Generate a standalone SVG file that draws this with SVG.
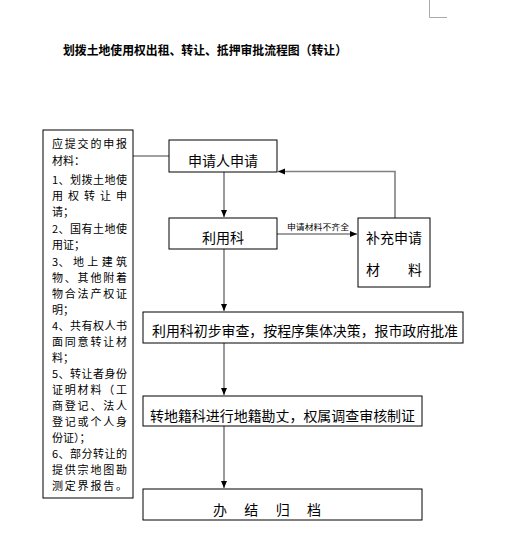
<svg xmlns="http://www.w3.org/2000/svg" width="505" height="558" viewBox="0 0 505 558">
<defs>
<marker id="ah" markerWidth="8" markerHeight="8" refX="7" refY="4" orient="auto" markerUnits="userSpaceOnUse">
<path d="M0,1 L7,4 L0,7 Z" fill="#000"/>
</marker>
<style>
.box{fill:#fff;stroke:#000;stroke-width:1}
.t{font-family:"Noto Sans CJK SC","Liberation Sans",sans-serif;fill:#000}
.n{font-size:14px;text-anchor:middle}
.l{font-size:11px}
.c{fill:none;stroke:#808080;stroke-width:1.6}
</style>
</defs>
<rect width="505" height="558" fill="#fff"/>
<path d="M429.5,0 V17.5 H447" fill="none" stroke="#aaa" stroke-width="1"/>
<text class="t" x="63" y="55" font-size="12.5" font-weight="bold" textLength="284" lengthAdjust="spacingAndGlyphs">划拨土地使用权出租、转让、抵押审批流程图（转让）</text>

<g id="connectors">
<path class="c" d="M133,156 H169"/>
<path class="c" d="M224,172 V217" marker-end="url(#ah)"/>
<path class="c" d="M277,234 H357" marker-end="url(#ah)"/>
<path class="c" d="M395,218 V171.5 H278" marker-end="url(#ah)"/>
<path class="c" d="M224,249 V311" marker-end="url(#ah)"/>
<path class="c" d="M224,343 V395" marker-end="url(#ah)"/>
<path class="c" d="M224,426 V488" marker-end="url(#ah)"/>
<text class="t" x="318" y="230" font-size="8" text-anchor="middle" textLength="62" lengthAdjust="spacingAndGlyphs">申请材料不齐全</text>
</g>

<g id="materials">
<rect class="box" x="43" y="130" width="90" height="368"/>
<text class="t l">
<tspan x="52" y="148" textLength="75">应提交的申报</tspan>
<tspan x="52" y="165">材料：</tspan>
<tspan x="52" y="184" textLength="75">1、划拨土地使</tspan>
<tspan x="52" y="200" textLength="75">用 权 转 让 申</tspan>
<tspan x="52" y="216">请；</tspan>
<tspan x="52" y="233" textLength="75">2、国有土地使</tspan>
<tspan x="52" y="249">用证；</tspan>
<tspan x="52" y="266" textLength="75">3、 地 上 建 筑</tspan>
<tspan x="52" y="282" textLength="75">物、其他附着</tspan>
<tspan x="52" y="298" textLength="75">物合法产权证</tspan>
<tspan x="52" y="314">明；</tspan>
<tspan x="52" y="330" textLength="75">4、共有权人书</tspan>
<tspan x="52" y="346" textLength="75">面同意转让材</tspan>
<tspan x="52" y="362">料；</tspan>
<tspan x="52" y="378" textLength="75">5、转让者身份</tspan>
<tspan x="52" y="394" textLength="75">证明材料（工</tspan>
<tspan x="52" y="410" textLength="75">商登记、法人</tspan>
<tspan x="52" y="426" textLength="75">登记或个人身</tspan>
<tspan x="52" y="442">份证）；</tspan>
<tspan x="52" y="458" textLength="75">6、部分转让的</tspan>
<tspan x="52" y="474" textLength="75">提供宗地图勘</tspan>
<tspan x="52" y="490" textLength="75">测定界报告。</tspan>
</text>
</g>

<g id="apply">
<rect class="box" x="169" y="140" width="108" height="32"/>
<text class="t n" x="223" y="166">申请人申请</text>
</g>

<g id="liyongke">
<rect class="box" x="169" y="218" width="108" height="31"/>
<text class="t n" x="223" y="243">利用科</text>
</g>

<g id="supplement">
<rect class="box" x="358" y="218" width="72" height="69"/>
<text class="t n" x="394" y="243">补充申请</text>
<text class="t" font-size="14" x="366" y="275">材</text>
<text class="t" font-size="14" x="408" y="275">料</text>
</g>

<g id="review">
<rect class="box" x="143" y="312" width="320" height="31"/>
<text class="t n" x="305" y="336" textLength="306" lengthAdjust="spacingAndGlyphs">利用科初步审查，按程序集体决策，报市政府批准</text>
</g>

<g id="survey">
<rect class="box" x="143" y="396" width="279" height="30"/>
<text class="t" font-size="14" x="150" y="421" textLength="265" lengthAdjust="spacingAndGlyphs">转地籍科进行地籍勘丈，权属调查审核制证</text>
</g>

<g id="archive">
<rect class="box" x="143" y="489" width="279" height="31"/>
<text class="t" font-size="14" x="213" y="515" textLength="108">办 结 归 档</text>
</g>
</svg>
